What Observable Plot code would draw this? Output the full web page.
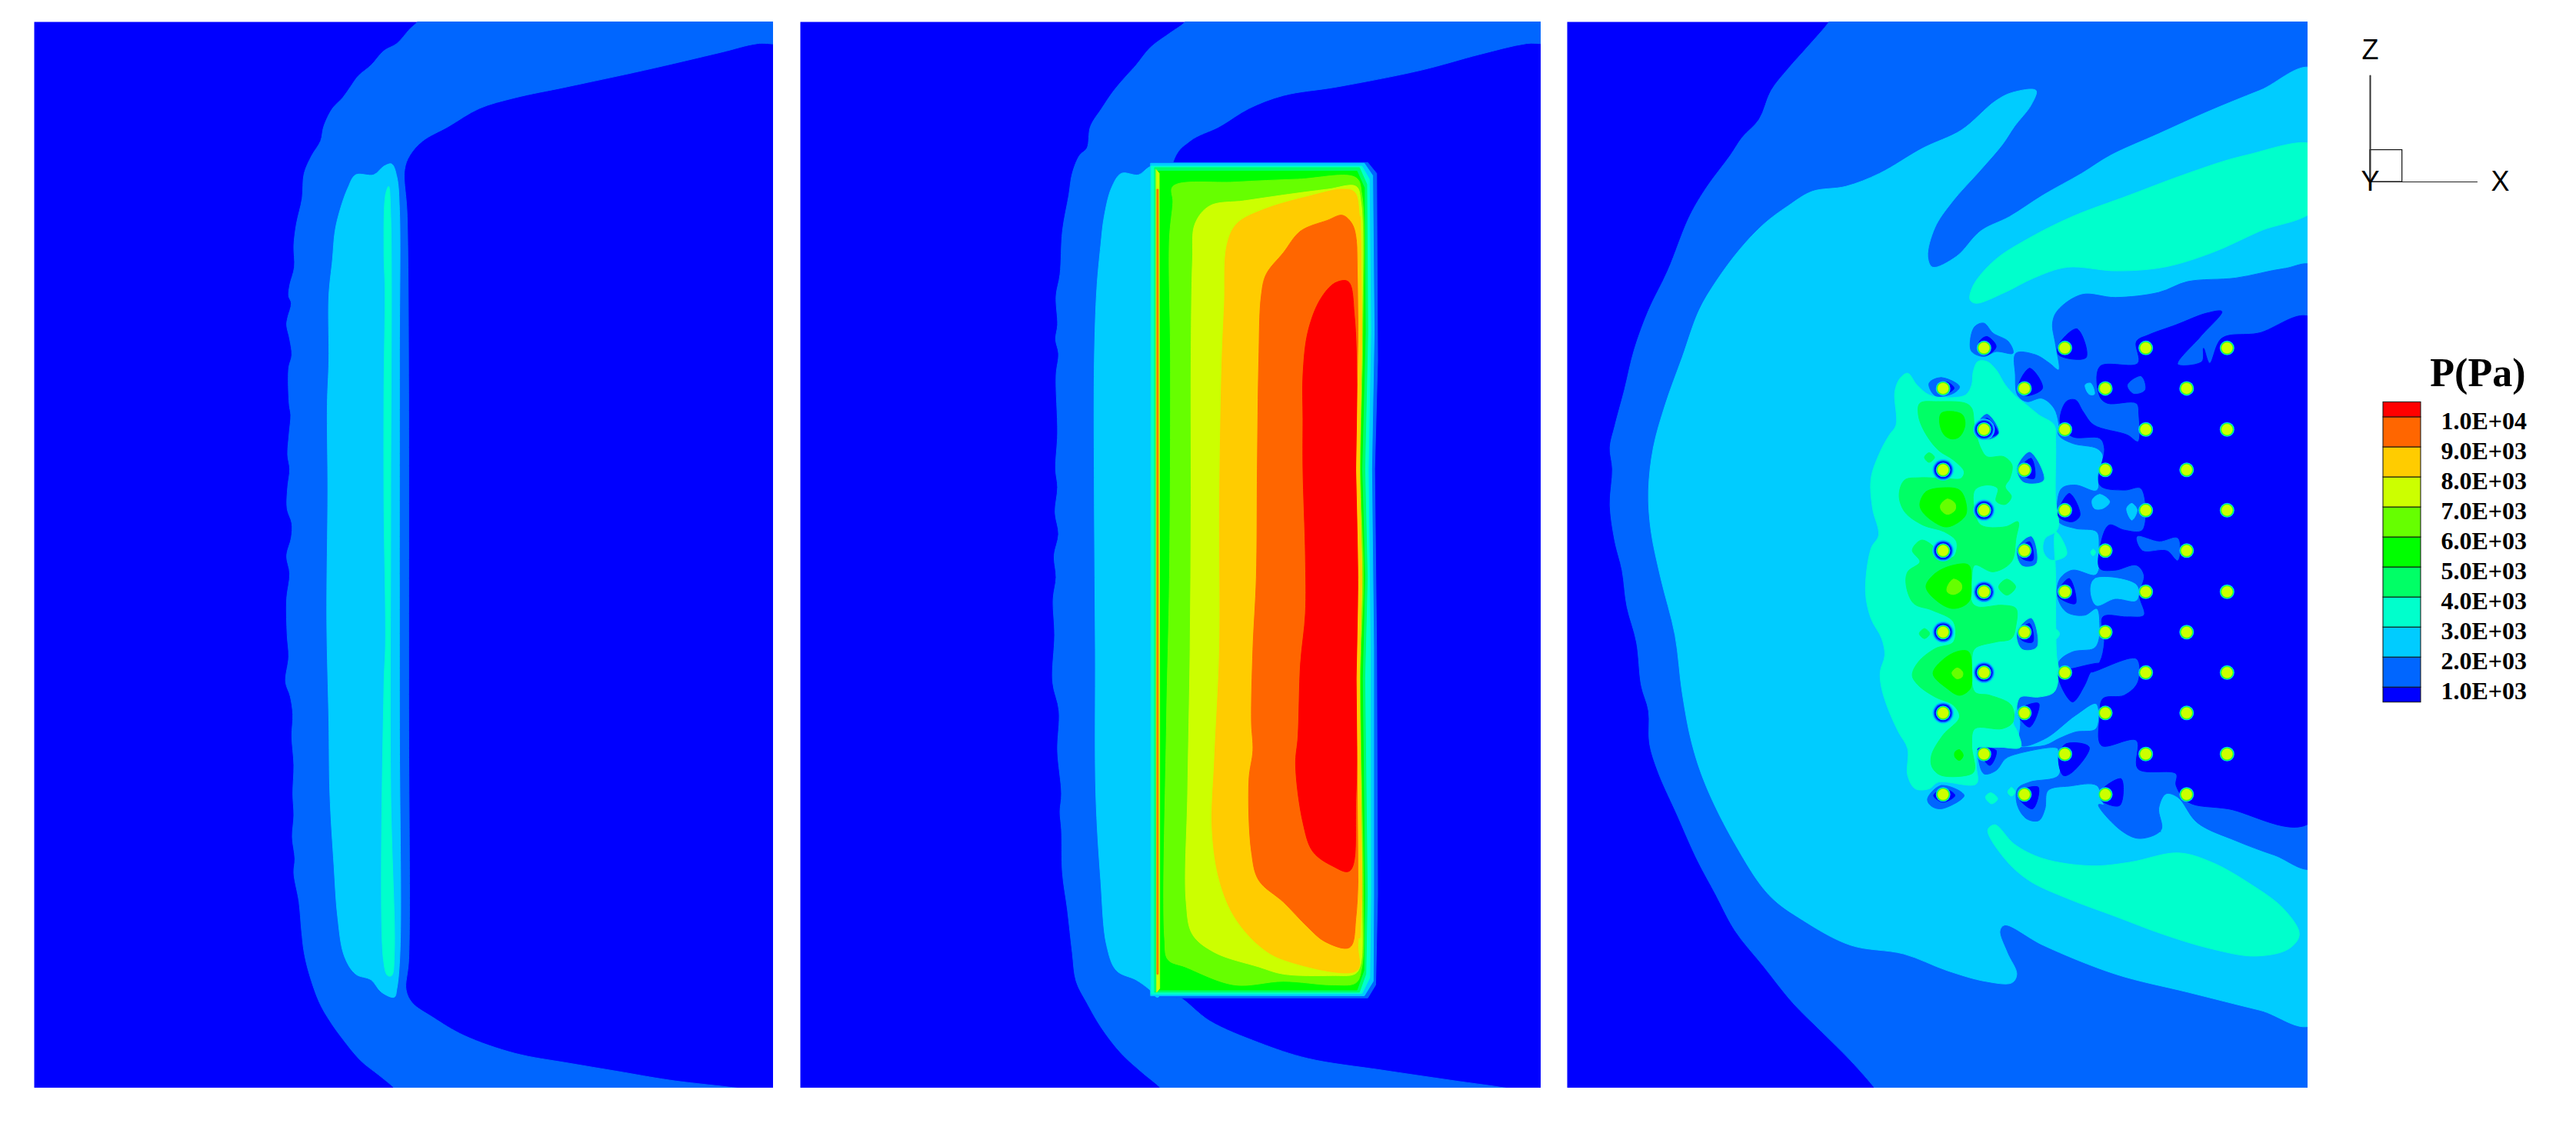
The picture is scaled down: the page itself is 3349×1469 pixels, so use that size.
<!DOCTYPE html>
<html><head><meta charset="utf-8">
<script src="https://cdn.jsdelivr.net/npm/d3@7"></script>
<script src="https://cdn.jsdelivr.net/npm/@observablehq/plot@0.6"></script>
<style>html,body{margin:0;background:#fff}#page{position:relative;width:3349px;height:1469px;overflow:hidden}#page svg{position:absolute;background:transparent}</style>
</head><body><div id="page"></div>
<script>
const colors=["#0000ff","#0066ff","#00ccff","#00ffcc","#00ff66","#00ff00","#66ff00","#ccff00","#ffcc00","#ff6600","#ff0000"];
const legendEdges=[500,1000,2000,3000,4000,5000,6000,7000,8000,9000,10000,10500];
const legendTicks=[1000,2000,3000,4000,5000,6000,7000,8000,9000,10000];
const legendLabels=["1.0E+03","2.0E+03","3.0E+03","4.0E+03","5.0E+03","6.0E+03","7.0E+03","8.0E+03","9.0E+03","1.0E+04"];

// ---- panel A contours
const a1=[[810,30],[795,40],[770,60],[745,70],[720,90],[695,105],[680,120],[665,135],[645,150],[628,175],[622,195],[605,215],[590,240],[586,275],[575,310],[570,340],[571,370],[562,395],[560,410],[565,420],[558,440],[556,450],[562,470],[566,492],[560,510],[561,560],[564,575],[561,600],[558,630],[562,650],[558,675],[557,705],[566,725],[565,745],[556,770],[562,795],[556,830],[557,880],[560,910],[554,945],[563,965],[568,990],[566,1020],[570,1060],[568,1100],[570,1130],[567,1160],[572,1190],[570,1210],[580,1250],[585,1290],[590,1320],[600,1350],[620,1390],[640,1415],[665,1440],[700,1470],[735,1490],[765,1508],[780,1522],[1530,1522],[1470,1512],[1300,1497],[1200,1485],[1100,1473],[1000,1460],[900,1435],[840,1410],[800,1390],[788,1372],[793,1330],[793,1000],[790,300],[785,235],[795,215],[820,195],[870,175],[930,150],[1000,135],[1100,120],[1250,97],[1400,72],[1470,60],[1540,58],[1540,18],[820,18]];
const a2=[[760,227],[745,230],[725,242],[690,242],[675,260],[660,290],[650,320],[645,360],[638,410],[638,500],[635,560],[636,680],[634,860],[638,1000],[640,1100],[648,1200],[655,1270],[668,1325],[690,1350],[720,1358],[740,1375],[765,1382],[770,1370],[776,1320],[775,1000],[775,500],[775,290],[770,245]];
const a3=[[754,258],[748,270],[745,350],[747,400],[745,540],[745,700],[748,890],[745,950],[744,1330],[752,1352],[760,1352],[765,1320],[758,1100],[758,700],[758,300]];

// ---- panel B contours
const b1=[[800,30],[770,45],[730,65],[700,90],[680,105],[655,125],[630,150],[607,175],[600,205],[585,215],[570,240],[563,270],[550,320],[545,380],[537,410],[540,450],[536,470],[542,490],[537,520],[540,600],[536,650],[540,675],[535,710],[542,740],[533,770],[537,800],[531,830],[534,880],[530,945],[543,985],[540,1040],[548,1100],[545,1125],[548,1150],[550,1210],[560,1260],[570,1320],[578,1360],[600,1390],[630,1425],[670,1460],[710,1485],[750,1508],[765,1522],[1550,1522],[1480,1511],[1340,1497],[1200,1483],[1050,1467],[950,1445],[850,1415],[790,1383],[780,1383],[775,225],[810,195],[870,175],[930,150],[1000,132],[1110,120],[1280,97],[1400,75],[1495,60],[1565,57],[1565,18],[810,18]];
const b1rect=[[745,225],[1172,225],[1190,240],[1192,500],[1186,650],[1190,900],[1192,1240],[1188,1365],[1172,1383],[745,1383]];
const b2blob=[[745,227],[725,232],[705,242],[670,240],[650,260],[635,300],[628,340],[620,400],[615,500],[615,700],[617,900],[618,1100],[628,1220],[640,1310],[660,1345],[700,1358],[725,1370],[745,1382]];
const b2=[[730,226],[1165,226],[1182,243],[1185,460],[1180,650],[1184,900],[1184,1240],[1183,1360],[1165,1380],[730,1380]];
const b3=[[731,230],[1160,230],[1175,248],[1178,460],[1173,650],[1177,900],[1178,1240],[1176,1355],[1160,1377],[731,1378]];
const b4=[[738,232],[1155,232],[1170,255],[1172,460],[1166,650],[1171,800],[1166,940],[1171,1240],[1168,1350],[1155,1375],[738,1375]];
const b5=[[744,237],[1150,237],[1165,260],[1167,460],[1160,650],[1166,800],[1161,940],[1166,1240],[1164,1345],[1150,1372],[744,1372]];
const b6=[[775,258],[900,252],[1030,248],[1148,246],[1160,270],[1162,460],[1157,650],[1163,800],[1157,940],[1163,1240],[1160,1340],[1148,1362],[1100,1365],[1000,1360],[900,1365],[800,1340],[765,1330],[758,1300],[762,1000],[768,800],[770,500],[768,330],[775,280]];
const b7=[[850,285],[920,278],[1000,270],[1090,262],[1148,258],[1158,280],[1160,460],[1155,650],[1160,800],[1155,940],[1160,1240],[1156,1340],[1145,1350],[1100,1352],[1000,1350],[950,1340],[860,1320],[815,1295],[802,1250],[805,1100],[810,900],[812,700],[812,500],[815,360],[820,310]];
const b8=[[905,310],[960,290],[1050,272],[1120,262],[1145,266],[1155,300],[1157,460],[1152,650],[1157,800],[1152,940],[1157,1240],[1152,1310],[1150,1345],[1000,1330],[950,1310],[900,1270],[870,1220],[855,1150],[860,1050],[870,900],[870,700],[875,500],[880,420],[885,340]];
const b9=[[1000,350],[1035,320],[1090,305],[1120,298],[1140,310],[1150,340],[1152,460],[1148,650],[1153,800],[1148,940],[1153,1100],[1148,1270],[1135,1313],[1085,1305],[1050,1285],[1000,1250],[950,1220],[935,1180],[930,1080],[938,1040],[935,1000],[938,900],[945,800],[947,650],[950,500],[955,410],[965,380]];
const b10=[[1132,390],[1105,392],[1075,415],[1050,460],[1040,520],[1040,580],[1040,650],[1045,770],[1045,850],[1035,920],[1030,1020],[1025,1060],[1040,1140],[1060,1180],[1100,1200],[1135,1207],[1148,1100],[1150,650],[1145,440]];
const bLeftYellow=[[741,235],[747,240],[748,1000],[748,1370],[742,1375],[741,1000]];
const bLeftOrange=[[743,262],[745,262],[745,1350],[743,1350]];
const bRightYellow=[[1151,300],[1157,300],[1160,460],[1155,650],[1160,800],[1155,940],[1160,1240],[1156,1300],[1150,1300],[1154,1240],[1150,940],[1154,800],[1149,650],[1154,460]];

const c1=[[555,30],[510,65],[470,95],[435,125],[410,165],[375,190],[350,215],[300,260],[265,300],[220,375],[180,430],[150,485],[130,540],[110,590],[100,620],[105,650],[100,700],[110,750],[125,790],[135,840],[155,890],[165,950],[180,985],[182,1030],[200,1070],[240,1130],[280,1190],[320,1240],[360,1290],[420,1340],[480,1390],[540,1430],[600,1470],[650,1508],[665,1522],[1565,1522],[1565,18],[565,18]];
const c2=[[180,680],[190,620],[215,560],[250,495],[285,430],[320,390],[370,345],[420,310],[470,285],[520,265],[590,258],[660,240],[750,205],[830,180],[900,140],[935,128],[985,125],[975,145],[940,175],[915,200],[870,235],[810,280],[775,315],[760,355],[770,370],[820,355],[870,320],[930,300],[1000,270],[1080,240],[1140,215],[1240,185],[1340,155],[1450,125],[1565,96],[1565,1418],[1450,1400],[1300,1375],[1150,1350],[1000,1310],[920,1282],[910,1290],[925,1320],[945,1350],[935,1362],[880,1360],[800,1345],[710,1322],[600,1310],[500,1275],[430,1240],[360,1170],[300,1090],[270,1030],[250,960],[235,880],[205,800],[185,735]];
const c3top=[[848,415],[855,395],[900,360],[970,330],[1060,300],[1180,270],[1300,240],[1420,215],[1565,202],[1565,288],[1450,320],[1350,350],[1250,370],[1150,375],[1050,370],[980,385],[920,405],[860,420]];
const c3bot=[[885,1150],[900,1143],[940,1170],[1000,1190],[1100,1200],[1180,1195],[1280,1182],[1350,1195],[1430,1225],[1500,1260],[1532,1295],[1510,1315],[1440,1325],[1350,1315],[1250,1295],[1150,1270],[1050,1245],[970,1220],[920,1190]];
const c1rightStart=[[1565,370],[1500,372],[1400,385],[1300,390],[1240,405],[1150,412],[1080,408],[1030,430]];
const c1rightEnd=[[1115,1115],[1160,1150],[1200,1162],[1245,1150],[1240,1120],[1255,1100],[1280,1105],[1320,1140],[1400,1165],[1480,1185],[1565,1202]];

const d1chain=[[725,45],[735,110],[745,185],[715,165],[670,140],[605,135],[603,200],[610,260],[640,280],[690,270],[730,300],[745,345],[745,380],[790,405],[870,420],[890,440],[885,470],[875,500],[875,540],[865,548],[800,530],[755,540],[740,590],[745,640],[800,660],[870,670],[878,720],[878,780],[865,800],[790,785],[750,810],[740,860],[770,910],[830,920],[870,900],[880,950],[875,1000],[860,1020],[790,1030],[745,1060],[745,1110],[730,1150],[680,1165],[620,1165],[610,1190],[620,1240],[620,1310],[700,1290],[800,1220],[868,1185],[868,1260],[800,1270],[745,1290],[700,1310],[560,1318],[480,1322],[480,1340],[500,1395],[540,1385],[570,1350],[610,1335],[740,1318],[745,1330],[745,1400],[650,1420],[610,1440],[610,1490],[640,1530],[680,1535],[700,1500],[710,1445],[780,1432],[870,1430],[890,1480],[925,1530],[1000,1550],[1080,1568]];
const d0main=[[1575,30],[1400,75],[1280,90],[1240,165],[1220,120],[1215,160],[1135,168],[1210,85],[1280,10],[1230,15],[1130,50],[1040,80],[1000,100],[1005,165],[880,175],[880,265],[905,285],[1000,285],[1008,320],[1005,400],[970,380],[860,350],[825,310],[800,275],[770,280],[750,345],[790,385],[880,390],[895,420],[880,530],[960,545],[1015,540],[1020,665],[960,665],[910,650],[880,720],[880,780],[930,785],[1000,770],[1025,800],[1010,860],[1025,920],[970,925],[890,925],[895,1000],[880,1060],[850,1090],[1000,1050],[1005,1120],[960,1160],[890,1170],[880,1225],[885,1310],[1000,1295],[1005,1380],[1130,1395],[1130,1430],[1170,1480],[1300,1500],[1575,1538]];
const d1islands=[
 [[972,230],[1015,205],[1027,245],[990,255]],
 [[1003,685],[1020,725],[1100,725],[1135,755],[1135,690],[1075,700]],
 [[455,100],[470,55],[500,45],[530,75],[580,100],[595,135],[540,130],[500,145],[460,130]],
 [[320,225],[360,208],[420,235],[400,255],[340,262]],
 [[480,350],[510,318],[548,375],[505,392]],
 [[610,480],[650,432],[695,515],[630,520]],
 [[610,720],[655,685],[670,765],[625,770]],
 [[610,970],[655,930],[672,1015],[625,1020]],
 [[315,1470],[360,1430],[435,1460],[360,1500],[325,1490]]];
const d0islands=[
 [[485,100],[510,85],[540,115],[510,140],[485,130]],
 [[350,228],[380,222],[402,240],[370,258],[350,250]],
 [[612,240],[650,180],[692,240],[635,262]],
 [[745,110],[805,62],[835,148],[745,140]],
 [[485,350],[510,330],[545,375],[505,385]],
 [[615,485],[655,450],[665,510],[625,500]],
 [[615,725],[650,700],[660,755],[625,750]],
 [[615,970],[650,945],[660,1000],[625,995]],
 [[745,605],[780,555],[815,620],[790,640],[745,625]],
 [[745,845],[780,810],[800,885],[745,865]],
 [[745,1095],[790,1180],[830,1130],[850,1090],[880,1065],[800,1078]],
 [[612,1210],[640,1190],[680,1185],[650,1255],[615,1225]],
 [[480,1320],[540,1325],[520,1370],[490,1340]],
 [[745,1340],[770,1305],[845,1315],[790,1390],[760,1400]],
 [[612,1450],[678,1435],[660,1500],[615,1470]],
 [[880,1450],[950,1410],[945,1490],[885,1475]],
 [[335,1460],[370,1440],[405,1460],[365,1480]]];
const d2islands=[
 [[832,230],[850,225],[862,258],[845,258]],
 [[855,575],[880,558],[912,580],[890,600],[862,600]],
 [[968,600],[985,585],[1002,605],[985,635]],
 [[850,840],[865,810],[1000,830],[1000,875],[930,870],[868,890]]];
const d3main=[[250,195],[225,210],[208,250],[212,350],[190,380],[160,430],[130,510],[135,600],[155,680],[130,720],[112,850],[130,930],[165,990],[175,1040],[160,1090],[165,1140],[190,1210],[220,1270],[250,1320],[250,1400],[275,1440],[320,1440],[350,1420],[475,1425],[475,1370],[480,1322],[545,1315],[620,1315],[610,1270],[595,1240],[605,1200],[620,1165],[680,1165],[730,1150],[745,1090],[738,1040],[735,880],[735,800],[735,670],[760,700],[770,740],[720,755],[695,730],[700,690],[735,670],[745,650],[735,575],[735,400],[730,350],[680,320],[640,290],[605,265],[570,230],[540,185],[510,160],[480,160],[465,190],[460,230],[440,260],[370,268],[320,260],[280,230]];
const d3islands=[
 [[710,975],[728,958],[748,975],[730,995]],
 [[850,732],[858,722],[866,732],[858,742]],
 [[505,1465],[522,1452],[545,1470],[525,1485]],
 [[578,1450],[590,1436],[602,1450],[590,1462]]];
const d4main=[[290,285],[350,280],[440,285],[460,300],[470,360],[490,420],[510,445],[565,445],[592,470],[585,510],[570,535],[590,565],[570,588],[540,578],[545,540],[510,530],[470,545],[470,610],[490,650],[570,655],[612,640],[605,690],[590,760],[530,790],[470,770],[460,810],[460,880],[480,895],[560,890],[605,900],[605,950],[590,990],[540,1000],[470,1020],[460,1060],[470,1150],[520,1160],[590,1190],[595,1240],[560,1260],[470,1260],[460,1310],[470,1380],[460,1395],[360,1400],[330,1375],[328,1340],[365,1280],[420,1225],[400,1190],[340,1165],[285,1130],[265,1100],[285,1060],[340,1020],[400,1000],[400,940],[330,905],[270,885],[245,830],[250,790],[290,760],[265,725],[295,695],[335,715],[350,745],[400,745],[410,700],[370,670],[300,650],[240,610],[222,560],[240,515],[290,508],[370,510],[425,510],[435,490],[400,455],[350,425],[305,370],[285,320]];
const d4islands=[
 [[305,447],[320,433],[338,447],[320,462]],
 [[288,975],[305,960],[322,975],[305,990]],
 [[548,835],[575,812],[604,835],[575,860]]];
const d5islands=[
 [[360,315],[400,310],[430,320],[438,350],[420,385],[395,392],[370,380],[355,345]],
 [[290,585],[310,550],[370,538],[420,545],[440,580],[440,620],[400,650],[370,655],[320,630],[295,605]],
 [[310,835],[340,795],[400,770],[450,770],[458,820],[450,880],[400,900],[350,880]],
 [[333,1095],[370,1050],[420,1027],[450,1030],[460,1090],[455,1140],[420,1160],[380,1140]],
 [[405,1330],[420,1323],[432,1340],[420,1355],[405,1345]]];
const d6islands=[
 [[358,590],[380,572],[405,585],[405,605],[380,618],[360,605]],
 [[380,835],[400,812],[425,825],[425,845],[400,858],[380,850]],
 [[395,1093],[412,1078],[430,1090],[428,1105],[410,1110]]];

// ---- tube positions in panel C
const rowsA=[482,595,707,820,932,1045];
const colsA=[877,1045,1213,1382];
const rowsB=[538,651,763,876,988,1101];
const colsB=[792,961,1129,1298];
const haloCols=[792,877];
const haloSkipRows=[482,538,1045,1101];

const fromFine=pts=>pts.map(([x,y])=>[560+x*0.6337,426.8+y*0.4627]);
const tubes=[...d3.cross(colsA,rowsA),...d3.cross(colsB,rowsB)];
const haloTubes=tubes.filter(([x,y])=>haloCols.includes(x)&&!haloSkipRows.includes(y));

const page=document.getElementById("page");
function place(svg,left,top){svg.style.left=left+"px";svg.style.top=top+"px";page.appendChild(svg);}
function contour(pts,level,curve){return Plot.line(pts,{x:d=>d[0],y:d=>d[1],curve,fill:colors[level],stroke:colors[level],strokeWidth:1});}
function panel(shapes,xDomain,left,width,extra=[]){
 const svg=Plot.plot({width,height:1386,margin:0,axis:null,
  x:{domain:xDomain,range:[0,width]},y:{domain:[30,1508],range:[0,1386]},
  marks:[Plot.frame({fill:colors[0],stroke:null}),
   ...shapes.map(s=>contour(s.pts,s.level,s.curve)),...extra]});
 place(svg,left,28);
}
const L="linear-closed",C="catmull-rom-closed";
panel([
 {pts:a1,level:1,curve:C},{pts:a2,level:2,curve:C},{pts:a3,level:3,curve:C}
],[66,1501],44,961);
panel([
 {pts:b1,level:1,curve:C},{pts:b1rect,level:1,curve:L},{pts:b2blob,level:2,curve:C},
 {pts:b2,level:2,curve:L},{pts:b3,level:3,curve:L},{pts:b4,level:4,curve:L},{pts:b5,level:5,curve:L},
 {pts:b6,level:6,curve:C},{pts:b7,level:7,curve:C},{pts:b8,level:8,curve:C},{pts:b9,level:9,curve:C},{pts:b10,level:10,curve:C},
 {pts:bRightYellow,level:8,curve:L},{pts:bLeftYellow,level:7,curve:L},{pts:bLeftOrange,level:9,curve:L}
],[16,1525],1040,963);
const many=(list,level)=>list.map(pts=>({pts:fromFine(pts),level,curve:C}));
const dot=(data,r,level)=>Plot.dot(data,{x:d=>d[0],y:d=>d[1],r,fill:colors[level],stroke:null});
panel([
 {pts:c1,level:1,curve:C},{pts:c2,level:2,curve:C},
 {pts:c3top,level:3,curve:C},{pts:c3bot,level:3,curve:C},
 {pts:[...c1rightStart,...fromFine(d1chain),...c1rightEnd],level:1,curve:C},
 {pts:fromFine(d0main),level:0,curve:C},
 ...many(d1islands.slice(0,2),1),...many(d2islands,2),
 {pts:fromFine(d3main),level:3,curve:C},...many(d3islands,3),
 {pts:fromFine(d4main),level:4,curve:C},...many(d4islands,4),
 ...many(d5islands,5),...many(d6islands,6),
 ...many(d1islands.slice(2),1),...many(d0islands,0)
],[11,1550],2037,963,[
 dot(haloTubes,14,2),dot(haloTubes,12.5,1),dot(haloTubes,11,0),
 dot(tubes,9.5,2),dot(tubes,8.7,4),dot(tubes,7.8,6),dot(tubes,7,7)
]);

// ---- legend
const bands=colors.map((c,i)=>({c,y1:legendEdges[i],y2:legendEdges[i+1]}));
const legend=Plot.plot({width:344,height:1469,margin:0,axis:null,
 x:{domain:[0,1],range:[93,142]},y:{domain:[500,10500],range:[912.7,522.4]},
 marks:[
  Plot.rect(bands,{x1:0,x2:1,y1:"y1",y2:"y2",fill:"c",stroke:"#111",strokeWidth:1}),
  Plot.text(legendTicks,{x:1,y:d=>d,dx:26,dy:5,text:(d,i)=>legendLabels[i],textAnchor:"start",fontSize:32,fontFamily:"Liberation Serif",fontWeight:"bold",fill:"#000"}),
  Plot.text(["P(Pa)"],{x:1,y:11472,dx:136,text:d=>d,textAnchor:"end",fontSize:52,fontFamily:"Liberation Serif",fontWeight:"bold",fill:"#000"})
 ]});
place(legend,3005,0);

// ---- axis triad
const triad=Plot.plot({width:344,height:300,margin:0,axis:null,
 x:{domain:[0,1],range:[76,215]},y:{domain:[0,1],range:[236,98]},
 marks:[
  Plot.rect([0],{x1:0,x2:0.3,y1:0,y2:0.3,fill:"none",stroke:"#111",strokeWidth:1.2}),
  Plot.line([[0,0],[1,0]],{x:d=>d[0],y:d=>d[1],stroke:"#222",strokeWidth:1.2}),
  Plot.line([[0,0],[0,1]],{x:d=>d[0],y:d=>d[1],stroke:"#333",strokeWidth:2}),
  Plot.text(["Z"],{x:0,y:1,dy:-33,text:d=>d,fontSize:36,fontFamily:"Liberation Sans",fill:"#000"}),
  Plot.text(["X"],{x:1,y:0,dx:30,text:d=>d,fontSize:36,fontFamily:"Liberation Sans",fill:"#000"}),
  Plot.text(["Y"],{x:0,y:0,text:d=>d,fontSize:36,fontFamily:"Liberation Sans",fill:"#000"})
 ]});
place(triad,3005,0);
</script></body></html>
